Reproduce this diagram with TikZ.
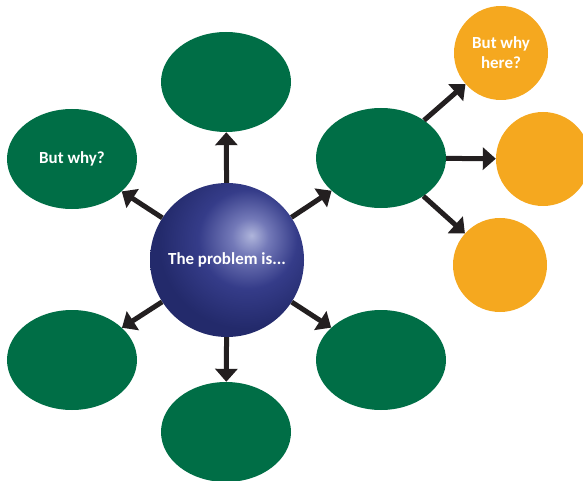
\documentclass[tikz,border=0pt]{standalone}
\usepackage{fontspec}
\setmainfont{Carlito}
\usepackage{tikz}
\usetikzlibrary{shapes.geometric,arrows.meta}
\definecolor{probnavy}{HTML}{232A6B}
\definecolor{probmid}{HTML}{353C89}
\definecolor{probsoft}{HTML}{7379B8}
\definecolor{probglow}{HTML}{AFB5DB}
\definecolor{whygreen}{HTML}{006E46}
\definecolor{whyorange}{HTML}{F5A81F}
\definecolor{arrowblack}{HTML}{231F20}
\pgfdeclareradialshading{probball}{\pgfpoint{8bp}{8bp}}{%
  color(0bp)=(probglow); color(6bp)=(probsoft); color(16bp)=(probmid);
  color(28bp)=(probnavy); color(100bp)=(probnavy)}
\tikzset{
  greenblob/.style={ellipse, fill=whygreen, minimum width=130bp, minimum height=100bp, inner sep=0pt},
  orangeblob/.style={circle, fill=whyorange, minimum size=94bp, inner sep=0pt},
  blobtext/.style={text=white, font=\bfseries\fontsize{17}{20}\selectfont, align=center},
  whyarrow/.style={draw=arrowblack, line width=5bp, -{Triangle[width=22bp,length=13bp]}}
}
\begin{document}
\begin{tikzpicture}[x=1bp, y=-1bp]
\useasboundingbox (0,0) rectangle (583,481);
% the problem in the middle
\node[circle, shading=probball, minimum size=154bp, inner sep=0pt, blobtext] (prob) at (227,260) {The problem is...};
% first ring of reasons
\node[greenblob] (top) at (226,82) {};
\node[greenblob, blobtext] (why) at (72,159) {But why?};
\node[greenblob] (right) at (381,158) {};
\node[greenblob] (lowleft) at (72,360) {};
\node[greenblob] (lowright) at (381,360) {};
\node[greenblob] (bottom) at (226,432) {};
% second ring
\node[orangeblob, blobtext] (here) at (501,53) {But why\\here?};
\node[orangeblob] (far) at (543,159) {};
\node[orangeblob] (under) at (500,265) {};
\foreach \target in {top,why,right,lowleft,lowright,bottom}
  \draw[whyarrow] (prob) -- (\target);
\foreach \target in {here,far,under}
  \draw[whyarrow] (right) -- (\target);
\end{tikzpicture}
\end{document}
